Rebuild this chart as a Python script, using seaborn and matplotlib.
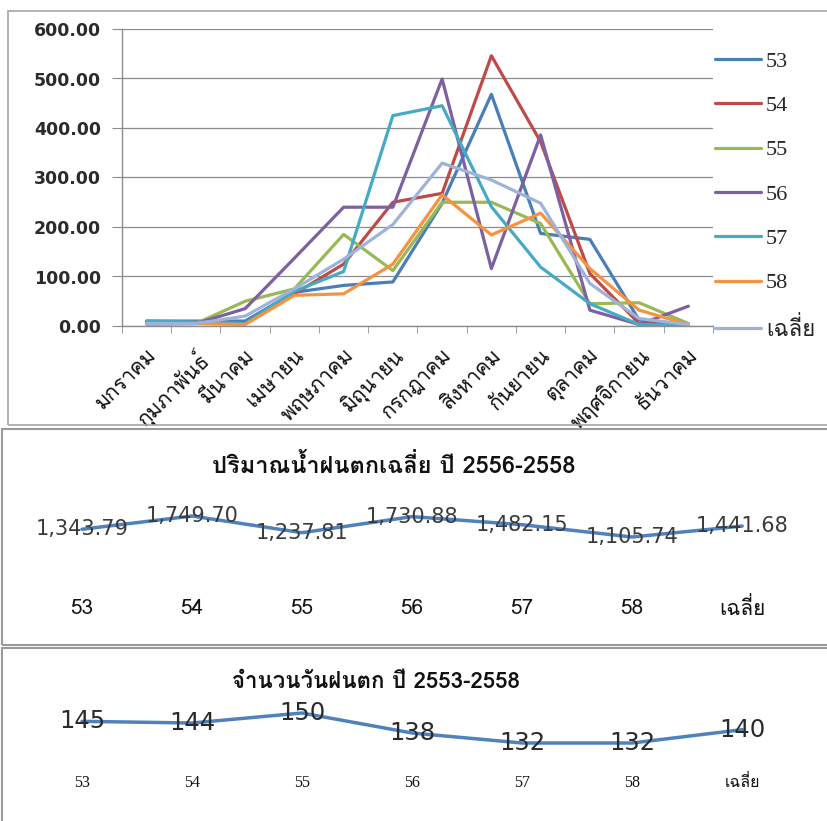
import matplotlib
matplotlib.use("Agg")
import matplotlib.pyplot as plt
from matplotlib import font_manager
from matplotlib.patches import Rectangle
import matplotlib.transforms as mtransforms
import seaborn as sns
import pandas as pd
import numpy as np

# ---------------- data ----------------
months = ["มกราคม", "กุมภาพันธ์", "มีนาคม", "เมษายน", "พฤษภาคม", "มิถุนายน",
          "กรกฎาคม", "สิงหาคม", "กันยายน", "ตุลาคม", "พฤศจิกายน", "ธันวาคม"]
series_names = ["53", "54", "55", "56", "57", "58", "เฉลี่ย"]
rain53 = [10, 10, 10, 68, 82, 89, 248, 468, 187, 175, 12, 2]
rain54 = [5, 8, 5, 65, 125, 250, 268, 546, 372, 106, 5, 2]
rain55 = [5, 5, 50, 75, 185, 112, 250, 250, 207, 45, 47, 5]
rain56 = [5, 5, 35, 137, 240, 240, 499, 116, 386, 32, 3, 40]
rain57 = [10, 8, 5, 70, 110, 425, 445, 241, 119, 45, 3, 2]
rain58 = [3, 5, 3, 62, 65, 125, 265, 184, 228, 116, 32, 3]
rain_avg = [5, 5, 20, 75, 135, 205, 329, 295, 248, 86, 15, 3]

year_labels = ["53", "54", "55", "56", "57", "58", "เฉลี่ย"]
annual_rain = [1343.79, 1749.70, 1237.81, 1730.88, 1482.15, 1105.74, 1441.68]
rain_days = [145, 144, 150, 138, 132, 132, 140]

title2 = "ปริมาณน้ำฝนตกเฉลี่ย ปี 2556-2558"
title3 = "จำนวนวันฝนตก ปี 2553-2558"

# ---------------- fonts ----------------
def thai_fonts():
    found = []
    try:
        from fontTools.ttLib import TTFont
    except Exception:
        return found
    for f in font_manager.fontManager.ttflist:
        if f.name in found:
            continue
        try:
            tt = TTFont(f.fname, fontNumber=0, lazy=True)
            cmap = tt.getBestCmap()
            if cmap and 0x0E01 in cmap:
                found.append(f.name)
        except Exception:
            pass
    return found

sns.set_style("white")
tf = thai_fonts()
thai = tf[0] if tf else "DejaVu Sans"
plt.rcParams["font.family"] = ["DejaVu Sans", thai]
SANS = ["DejaVu Sans", thai]
SERIF = ["Liberation Serif", thai]
THAI = [thai, "DejaVu Sans"]

palette = {"53": "#4A7EBB", "54": "#BE4B48", "55": "#98B954", "56": "#7D60A0",
           "57": "#46AAC5", "58": "#F69240", "เฉลี่ย": "#9DB3D8"}

W, H = 828, 821
fig = plt.figure(figsize=(W / 100, H / 100), dpi=100)

def fx(px):
    return px / W

def fy(py):
    return 1 - py / H

# panel frames
fig.patches.append(Rectangle((fx(8), fy(425)), fx(830) - fx(8), fy(11) - fy(425),
                             transform=fig.transFigure, fill=False, ec="#A6A6A6", lw=1.2))
fig.patches.append(Rectangle((fx(2), fy(645)), fx(830) - fx(2), fy(429) - fy(645),
                             transform=fig.transFigure, fill=False, ec="#9A9A9A", lw=1.5))
fig.patches.append(Rectangle((fx(2), fy(830)), fx(830) - fx(2), fy(648) - fy(830),
                             transform=fig.transFigure, fill=False, ec="#9A9A9A", lw=1.5))

# ---------------- top chart ----------------
rows = []
for name, vals in zip(series_names, [rain53, rain54, rain55, rain56, rain57, rain58, rain_avg]):
    for i, v in enumerate(vals):
        rows.append({"month": i, "rain": v, "series": name})
df = pd.DataFrame(rows)

ax1 = fig.add_axes([fx(122), fy(326), fx(713) - fx(122), fy(29) - fy(326)])
sns.lineplot(data=df, x="month", y="rain", hue="series", hue_order=series_names,
             palette=palette, linewidth=2.3, sort=False, ax=ax1, legend=True)
ax1.set_xlim(-0.5, 11.5)
ax1.set_ylim(0, 600)
ax1.set_yticks(np.arange(0, 601, 100))
ax1.set_yticklabels([f"{v:.2f}" for v in np.arange(0, 601, 100)],
                    fontsize=12.5, fontweight="bold", color="#2b2b2b", family=SANS)
ax1.yaxis.grid(True, color="#8C8C8C", lw=0.9)
ax1.xaxis.grid(False)
ax1.set_xticks(range(12))
ax1.set_xticklabels(months, rotation=45, ha="right", va="top", rotation_mode="anchor",
                    fontsize=15, color="#111111", family=THAI)
ax1.set_xticks(np.arange(-0.5, 12, 1), minor=True)
ax1.tick_params(axis="x", which="major", length=0, pad=14)
ax1.tick_params(axis="x", which="minor", length=5, color="#8C8C8C", direction="out", bottom=True)
ax1.tick_params(axis="y", length=7.2, color="#8C8C8C", direction="out", left=True, pad=8)
for s in ["top", "right"]:
    ax1.spines[s].set_visible(False)
for s in ["left", "bottom"]:
    ax1.spines[s].set_color("#8C8C8C")
    ax1.spines[s].set_linewidth(1.0)
ax1.set_xlabel("")
ax1.set_ylabel("")
handles, labels = ax1.get_legend_handles_labels()
leg = ax1.legend(handles, labels, loc="upper left", bbox_to_anchor=(1.003, 0.925),
                 frameon=False, prop={"family": SERIF, "size": 16},
                 handlelength=2.1, handletextpad=0.2, labelspacing=1.07, borderpad=0,
                 borderaxespad=0)
for line in leg.get_lines():
    line.set_linewidth(2.3)

# ---------------- annual rainfall ----------------
ax2 = fig.add_axes([0, fy(645), 1, fy(430) - fy(645)])
xs = list(range(len(year_labels)))
sns.lineplot(x=xs, y=annual_rain, color="#4F81BD", linewidth=2.5, ax=ax2)
ax2.set_xlim(-0.745, 6.78)
ax2.set_ylim(-2207, 4388)
ax2.axis("off")
for i, v in enumerate(annual_rain):
    ax2.text(i, v, f"{v:,.2f}", ha="center", va="center", fontsize=15,
             color="#3a3a3a", family=SANS)
tr2 = mtransforms.blended_transform_factory(ax2.transData, ax2.transAxes)
for i, lab in enumerate(year_labels):
    ax2.text(i, (645 - 608) / 215, lab, transform=tr2, ha="center", va="center",
             fontsize=15, color="#111111", family=THAI)
fig.text(fx(394), fy(466), title2, ha="center", va="center", fontsize=17,
         fontweight="bold", family=THAI, color="#111111")

# ---------------- rainy days ----------------
ax3 = fig.add_axes([0, 0, 1, fy(648)])
sns.lineplot(x=xs, y=rain_days, color="#4F81BD", linewidth=2.5, ax=ax3)
ax3.set_xlim(-0.745, 6.78)
ax3.set_ylim(85.2, 189)
ax3.axis("off")
for i, v in enumerate(rain_days):
    ax3.text(i, v, f"{v}", ha="center", va="center", fontsize=17.5,
             color="#2a2a2a", family=SANS)
tr3 = mtransforms.blended_transform_factory(ax3.transData, ax3.transAxes)
for i, lab in enumerate(year_labels):
    ax3.text(i, (821 - 783) / 173, lab, transform=tr3, ha="center", va="center",
             fontsize=11.5, color="#111111", family=SERIF)
fig.text(fx(376), fy(682), title3, ha="center", va="center", fontsize=16,
         fontweight="bold", family=THAI, color="#111111")

fig.savefig("out.png", dpi=100)
